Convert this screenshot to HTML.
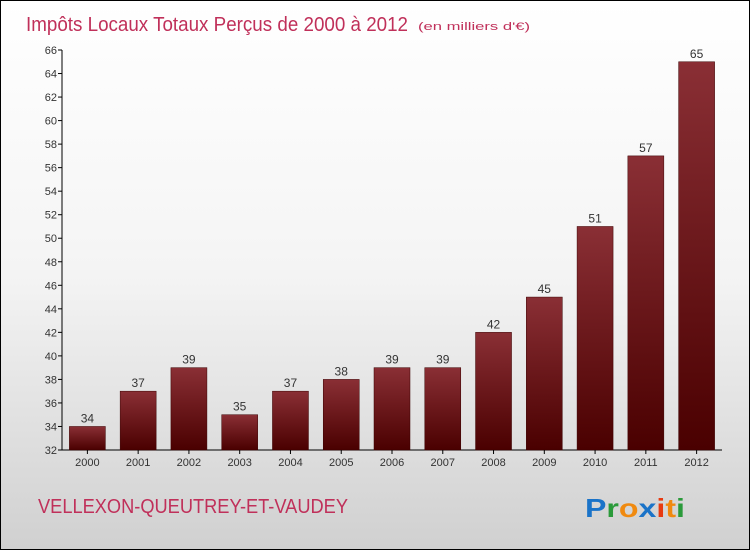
<!DOCTYPE html>
<html><head><meta charset="utf-8"><style>
body{margin:0;width:750px;height:550px;overflow:hidden}
#c{position:absolute;left:0;top:0;width:748px;height:548px;border:1px solid #000;background:linear-gradient(#ffffff 0%,#f4f4f4 50%,#d0d0d0 100%);font-family:"Liberation Sans",sans-serif}
</style></head><body>
<div id="c">
<svg width="748" height="548" id="svg">
<defs><linearGradient id="bg" x1="0" y1="0" x2="0" y2="1"><stop offset="0" stop-color="#8a2f35"/><stop offset="1" stop-color="#4a0000"/></linearGradient></defs>
<text x="25" y="30" font-size="20" fill="#c0305a" textLength="382" lengthAdjust="spacingAndGlyphs">Impôts Locaux Totaux Perçus de 2000 à 2012</text>
<text x="417" y="29" font-size="11" fill="#c0305a" textLength="112" lengthAdjust="spacingAndGlyphs">(en milliers d'€)</text>
<text x="37" y="512" font-size="20" fill="#c0305a" textLength="310" lengthAdjust="spacingAndGlyphs">VELLEXON-QUEUTREY-ET-VAUDEY</text>
<text x="584" y="516" font-size="26" font-weight="bold" textLength="100" lengthAdjust="spacingAndGlyphs"><tspan fill="#1a73c8">P</tspan><tspan fill="#2a9a3a">r</tspan><tspan fill="#f08a10">o</tspan><tspan fill="#1a73c8">x</tspan><tspan fill="#e83a10">i</tspan><tspan fill="#f08a10">t</tspan><tspan fill="#2a9a3a">i</tspan></text>
<g id="plot"></g>
</svg></div>
<script>
const categories=["2000","2001","2002","2003","2004","2005","2006","2007","2008","2009","2010","2011","2012"];
const values=[34,37,39,35,37,38,39,39,42,45,51,57,65];
const yTicks=[32,34,36,38,40,42,44,46,48,50,52,54,56,58,60,62,64,66];
const X0=61,X1=721,Y0=449,Y1=49,ymin=32,ymax=66;
const band=(X1-X0)/categories.length;
const y=v=>Y0-(v-ymin)/(ymax-ymin)*(Y0-Y1);
const x=i=>X0+band*(i+0.5);
const g=document.getElementById('plot');
const NS="http://www.w3.org/2000/svg";
function mk(t,a){const e=document.createElementNS(NS,t);for(const k in a)e.setAttribute(k,a[k]);g.appendChild(e);return e;}
let ax=mk('line',{x1:X0,y1:Y1,x2:X0,y2:Y0,stroke:'#000'});


let bx=mk('line',{x1:X0,y1:Y0,x2:X1,y2:Y0,stroke:'#000'});


yTicks.forEach(t=>{
 let l=mk('line',{x1:X0-4,y1:y(t),x2:X0,y2:y(t),stroke:'#000'});
 
 
 let tx=mk('text',{x:X0-5,y:y(t)+4,'font-size':11,'text-anchor':'end',fill:'#333'});
 tx.textContent=t;
 
 
});
categories.forEach((c,i)=>{
 const w=36,v=values[i];
 let r=mk('rect',{x:x(i)-w/2,y:y(v),width:w,height:Y0-y(v),fill:'url(#bg)',stroke:'#3a0000','stroke-width':0.5});
 
 
 let vt=mk('text',{x:x(i),y:y(v)-4,'font-size':12,'text-anchor':'middle',fill:'#333'});
 vt.textContent=v;
 
 
 let tk=mk('line',{x1:x(i),y1:Y0,x2:x(i),y2:Y0+4,stroke:'#000'});
 
 
 let ct=mk('text',{x:x(i),y:Y0+16,'font-size':11,'text-anchor':'middle',fill:'#333'});
 ct.textContent=c;
 
 
});
</script>
</body></html>
